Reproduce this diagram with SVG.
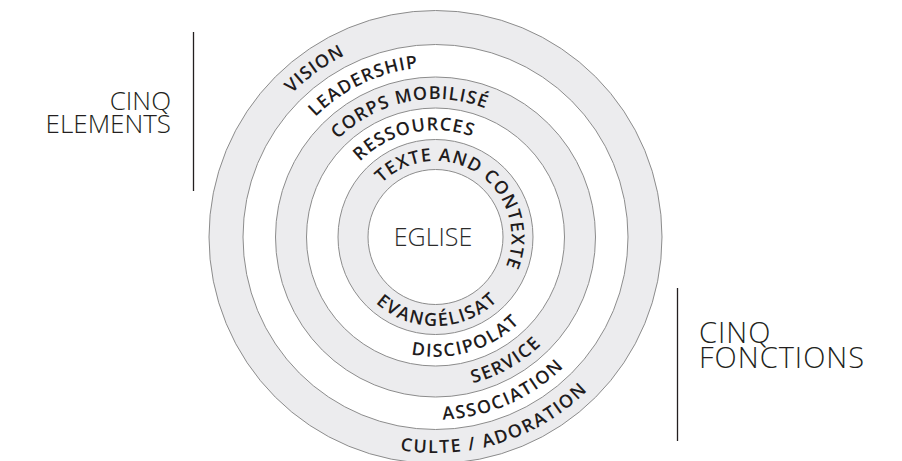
<svg xmlns="http://www.w3.org/2000/svg" width="902" height="461" viewBox="0 0 902 461">
<style>
.ring{stroke:#8c8c8c;stroke-width:1}
.g{fill:#ececee}
.w{fill:#ffffff}
.lbl{font-family:"Open Sans","DejaVu Sans",sans-serif;font-weight:600;font-size:18px;fill:#1f1c1d;letter-spacing:1px}
.lb2{letter-spacing:1.6px}
.side{font-family:"Open Sans","DejaVu Sans",sans-serif;font-weight:300;font-size:26px;fill:#231f20}
.side2{font-family:"Open Sans","DejaVu Sans",sans-serif;font-weight:300;font-size:29px;fill:#231f20;letter-spacing:1px}
.bar{stroke:#231f20;stroke-width:1.3;fill:none}
</style>
<defs>
<path id="t1" d="M381.76,183.26 A76,76 0 0 1 493.72,285.85"/>
<path id="t2" d="M359.98,161.48 A106.8,106.8 0 0 1 517.31,305.65"/>
<path id="t3" d="M337.92,139.42 A138,138 0 0 1 541.21,325.71"/>
<path id="t4" d="M315.43,116.93 A169.8,169.8 0 0 1 565.57,346.15"/>
<path id="t5" d="M291.96,93.46 A203,203 0 0 1 591.01,367.49"/>
<path id="b1" d="M367.32,179.79 A89,89 0 0 0 498.43,299.93"/>
<path id="b2" d="M343.73,159.99 A119.8,119.8 0 0 0 520.21,321.71"/>
<path id="b3" d="M319.83,139.94 A151,151 0 0 0 542.27,343.77"/>
<path id="b4" d="M295.47,119.50 A182.8,182.8 0 0 0 564.76,366.26"/>
<path id="b5" d="M270.04,98.16 A216,216 0 0 0 588.24,389.74"/>
</defs>
<g id="rings">
<circle class="ring g" cx="435.5" cy="237" r="226.5"/>
<circle class="ring w" cx="435.5" cy="237" r="192.5"/>
<circle class="ring g" cx="435.5" cy="237" r="160"/>
<circle class="ring w" cx="435.5" cy="237" r="129"/>
<circle class="ring g" cx="435.5" cy="237" r="97.5"/>
<circle class="ring w" cx="435.5" cy="237" r="67.5"/>
</g>
<g id="eglise">
<text x="433" y="246" text-anchor="middle" style="font-family:'Open Sans','DejaVu Sans',sans-serif;font-weight:300;font-size:25px;fill:#2b2b2b">EGLISE</text>
</g>
<g id="elements-labels">
<text class="lbl"><textPath href="#t5">VISION</textPath></text>
<text class="lbl"><textPath href="#t4">LEADERSHIP</textPath></text>
<text class="lbl"><textPath href="#t3">CORPS MOBILISÉ</textPath></text>
<text class="lbl"><textPath href="#t2">RESSOURCES</textPath></text>
<text class="lbl"><textPath href="#t1">TEXTE AND CONTEXTE</textPath></text>
</g>
<g id="fonctions-labels">
<text class="lbl lb2" text-anchor="end"><textPath href="#b1" startOffset="100%">EVANGÉLISAT</textPath></text>
<text class="lbl lb2" text-anchor="end"><textPath href="#b2" startOffset="100%">DISCIPOLAT</textPath></text>
<text class="lbl lb2" text-anchor="end"><textPath href="#b3" startOffset="100%">SERVICE</textPath></text>
<text class="lbl lb2" text-anchor="end"><textPath href="#b4" startOffset="100%">ASSOCIATION</textPath></text>
<text class="lbl lb2" text-anchor="end"><textPath href="#b5" startOffset="100%">CULTE / ADORATION</textPath></text>
</g>
<g id="cinq-elements">
<line class="bar" x1="193.5" y1="32" x2="193.5" y2="191"/>
<text class="side" x="171" y="110" text-anchor="end">CINQ</text>
<text class="side" x="171" y="133" text-anchor="end">ELEMENTS</text>
</g>
<g id="cinq-fonctions">
<line class="bar" x1="677.5" y1="288" x2="677.5" y2="441"/>
<text class="side2" x="699" y="343">CINQ</text>
<text class="side2" x="699" y="368">FONCTIONS</text>
</g>
</svg>
